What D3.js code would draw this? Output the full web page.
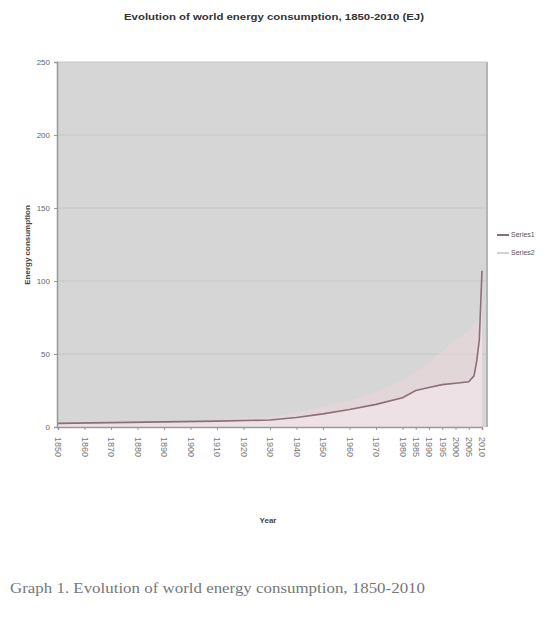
<!DOCTYPE html>
<html>
<head>
<meta charset="utf-8">
<script src="https://cdn.jsdelivr.net/npm/d3@7"></script>
<style>
  body { margin: 0; background: #fff; }
  text { font-family: "Liberation Sans", Arial, sans-serif; }
  text.caption { font-family: "Liberation Serif", "Times New Roman", serif; }
</style>
</head>
<body>
<svg id="chart" width="549" height="640"></svg>
<script>
// values
var years = [1850, 1870, 1890, 1910, 1930, 1940, 1950, 1960, 1970, 1980, 1985, 1990, 1995, 2000, 2005, 2007, 2008, 2009, 2010];
var total = [2.5, 3, 3.5, 4, 4.8, 6.5, 9, 12, 15.5, 20, 25, 27, 29, 30, 31, 35, 45, 60, 107];
var shade = [2.5, 3, 3.5, 5, 7, 10, 14, 18, 24, 32, 38, 44, 52, 60, 66, 70, 72, 74, 76];
var xTicks = [1850, 1860, 1870, 1880, 1890, 1900, 1910, 1920, 1930, 1940, 1950, 1960, 1970, 1980,
              1985, 1990, 1995, 2000, 2005, 2010];
var yTicks = [0, 50, 100, 150, 200, 250];
var seriesNames = ["Series1", "Series2"];

var svg = d3.select("#chart");

var plot = {left: 57, right: 487, top: 62, bottom: 427};

var x = d3.scaleLinear().domain([1850, 2010]).range([58, 482]);
var y = d3.scaleLinear().domain([0, 250]).range([plot.bottom, plot.top]);

// title
svg.append("text")
  .attr("x", 274).attr("y", 20)
  .attr("text-anchor", "middle")
  .attr("font-size", 9).attr("font-weight", "bold")
  .attr("fill", "#333")
  .attr("textLength", 300).attr("lengthAdjust", "spacingAndGlyphs")
  .text("Evolution of world energy consumption, 1850-2010 (EJ)");

// plot area
svg.append("rect")
  .attr("x", plot.left).attr("y", plot.top)
  .attr("width", plot.right - plot.left).attr("height", plot.bottom - plot.top)
  .attr("fill", "#d6d6d6");

// gridlines
svg.append("g")
  .selectAll("line")
  .data(yTicks.slice(1))
  .join("line")
  .attr("x1", plot.left).attr("x2", plot.right)
  .attr("y1", d => y(d)).attr("y2", d => y(d))
  .attr("stroke", "#c6c6c6");

// pale pink areas
var data = years.map((yr, i) => ({year: yr, total: total[i], shade: shade[i]}));

svg.append("path")
  .datum(data)
  .attr("fill", "#ead5db")
  .attr("opacity", 0.6)
  .attr("d", d3.area().x(d => x(d.year)).y0(plot.bottom).y1(d => y(d.shade)));

svg.append("path")
  .datum(data)
  .attr("fill", "#f1e3e7")
  .attr("opacity", 0.8)
  .attr("d", d3.area().x(d => x(d.year)).y0(plot.bottom).y1(d => y(d.total)));

// main line
svg.append("path")
  .datum(data)
  .attr("fill", "none")
  .attr("stroke", "#8a6f78")
  .attr("stroke-width", 1.6)
  .attr("d", d3.line().x(d => x(d.year)).y(d => y(d.total)));

// right border
svg.append("line")
  .attr("x1", plot.right).attr("x2", plot.right)
  .attr("y1", plot.top).attr("y2", plot.bottom)
  .attr("stroke", "#b5b5b5").attr("stroke-width", 2);

// y axis
var yAxis = svg.append("g")
  .attr("transform", "translate(" + plot.left + ",0)")
  .call(d3.axisLeft(y).tickValues(yTicks).tickSize(3).tickPadding(4));
yAxis.select(".domain").attr("stroke", "#999").attr("stroke-width", 1.5);
yAxis.selectAll(".tick line").attr("stroke", "#999");
yAxis.selectAll("text").attr("font-size", 8).attr("fill", "#666");

// x axis
var xAxis = svg.append("g")
  .attr("transform", "translate(0," + plot.bottom + ")")
  .call(d3.axisBottom(x).tickValues(xTicks).tickFormat(d3.format("d")).tickSize(3));
xAxis.select(".domain").attr("stroke", "#999").attr("stroke-width", 1.5);
xAxis.selectAll(".tick line").attr("stroke", "#999");
xAxis.selectAll("text")
  .attr("font-size", 9).attr("fill", "#777")
  .attr("transform", "rotate(90)")
  .attr("text-anchor", "start")
  .attr("x", 10).attr("y", 0).attr("dy", "0.35em");

// axis titles
svg.append("text")
  .attr("transform", "translate(30,245) rotate(-90)")
  .attr("text-anchor", "middle")
  .attr("font-size", 8).attr("font-weight", "bold").attr("fill", "#444")
  .text("Energy consumption");

svg.append("text")
  .attr("x", 268).attr("y", 523)
  .attr("text-anchor", "middle")
  .attr("font-size", 8).attr("font-weight", "bold").attr("fill", "#444")
  .text("Year");

// legend
var legend = svg.append("g").attr("transform", "translate(497,235)");
var legendColors = ["#8a6f78", "#e3c8d0"];
seriesNames.forEach(function(name, i) {
  var row = legend.append("g").attr("transform", "translate(0," + (i * 18) + ")");
  row.append("line")
    .attr("x1", 0).attr("x2", 12).attr("y1", 0).attr("y2", 0)
    .attr("stroke", legendColors[i]).attr("stroke-width", 2);
  row.append("text")
    .attr("x", 14).attr("y", 0).attr("dy", "0.35em")
    .attr("font-size", 7).attr("fill", "#555")
    .text(name);
});

// caption
svg.append("text")
  .attr("class", "caption")
  .attr("x", 10).attr("y", 593)
  .attr("font-size", 15).attr("fill", "#777")
  .attr("textLength", 415).attr("lengthAdjust", "spacingAndGlyphs")
  .text("Graph 1. Evolution of world energy consumption, 1850-2010");
</script>
</body>
</html>
